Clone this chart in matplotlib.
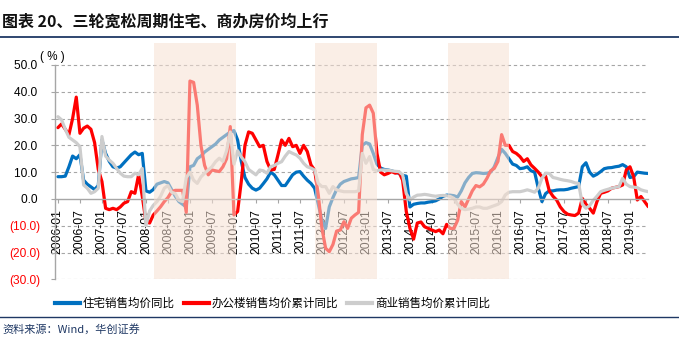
import numpy as np
import matplotlib
matplotlib.use("Agg")
import matplotlib.pyplot as plt
from matplotlib.lines import Line2D

plt.rcParams['font.family'] = ['Liberation Sans', 'Noto Sans CJK SC', 'DejaVu Sans']

# monthly, 2006-01 .. 2019-06
start_year = 2006
housing = [8.3, 8.3, 8.5, 12, 16, 15, 16.5, 7, 5.5, 4.5, 3.5, 5,
           22, 17, 14, 12, 11.5, 12, 13.5, 15, 16.5, 17.5, 16.5, 17,
           3, 2.5, 3.5, 5.5, 6, 6.5, 6, 3.5, 1, -1, -2, -3,
           12, 12.5, 15, 16, 17.5, 18.5, 19.5, 20.5, 22, 23, 24, 25,
           25.5, 22, 14, 8, 5.5, 4, 3.3, 4, 5.7, 7.5, 10, 9,
           7, 5, 5, 7, 9, 10, 10.2, 8.5, 7, 5.8, 4, -2,
           -8, -11, -3, 0.5, 3.5, 5.5, 6.5, 7, 7.5, 7.7, 8, 20,
           21, 20.5, 17, 13, 11.5, 11, 10.8, 10.5, 10, 9.5, 8.8, 8.5,
           -3, -2, -1.7, -1.5, -1.5, -1.2, -1, -0.7, 0, 1, 1.4, 1.4,
           1.2, 0.7, 3, 6, 8, 9.5, 9.8, 9.7, 9.5, 9.6, 10, 12,
           15.5, 18.5, 17, 15, 13, 12.5, 11.3, 11.5, 12, 10.5, 10, 4,
           -1, 2, 3, 3, 3.3, 3.4, 3.4, 3.6, 4, 4.3, 4.6, 12,
           13.5, 10, 8.5, 9.2, 10.2, 11.3, 11.6, 11.7, 12, 12.2, 12.8, 12,
           8, 8.3, 10, 9.8, 9.6, 9.5]
office = [26.6, 28, 26, 24, 30, 38, 24.5, 26.4, 27.2, 26, 21, 11,
          6.5, -3.5, -4, -3.5, -4, -3, -1.6, -1, 2.7, 2.1, 9, 1,
          -8.5, -9, -6, -4.5, -2.9, -1, 0.5, 2.7, 3.2, 3.2, 3.2, -5,
          44, 43.5, 35, 20, 12.5, 9, 10.8, 10.5, 10.2, 12, 15, 27,
          -6, -4.7, 6.5, 20, 25, 24.5, 22, 19.5, 20, 14, 10.8, 11,
          16.4, 22, 20, 22.6, 19.5, 20, 17, 20, 17.7, 12.7, 10.8, 1.5,
          -11, -18.4, -19.7, -17, -12, -11.6, -8.5, -11, -7.2, -6, -5, 24,
          34, 35, 32, 17, 10, 9, 9.5, 10.2, 9.6, 10, 7, -4.7,
          -11, -15, -9, -8.6, -10.4, -11, -11.6, -12.2, -11.6, -13, -9.5, -11,
          -11, -8, -1, -3, 0, 3, 5, 4.5, 5.5, 7.7, 10.5, 11.4,
          14, 24, 20, 20, 17.7, 17, 15.8, 14, 15, 12.7, 11.4, 10,
          8.3, 8.5, 3, 1, -0.4, -3, -4.7, -5.7, -6, -6.2, -5.3, 0.2,
          -2, -3.5, -5.3, -1, 2.1, 2.5, 3, 4, 4.3, 4.6, 5.2, 10.8,
          12, 8.3, -0.4, 0.9, -1, -2.9]
commercial = [30.7, 29.5, 26, 23, 22, 21, 19.5, 5.2, 4, 2.1, 2.7, 4,
              23.3, 16, 14.5, 13.3, 11.4, 9.6, 8.5, 8.3, 8.3, 9.6, 9, 11.4,
              -10, -4.5, -2.4, -1, 1, 4, 5, 2.5, 2, -0.5, -1, 8,
              10, 7, 5.8, 8.2, 9.6, 10.8, 12, 13.9, 15.2, 14, 18, 25,
              13, 18, 15.7, 13.9, 11, 10, 9, 10.8, 10.5, 9.6, 12, 12.5,
              13.3, 13.9, 16, 17.7, 17, 16.4, 15.2, 13.3, 12, 11.5, 10.8, 5.8,
              4.6, 4.6, 2.1, 4.6, 3.4, 3, 2.7, 2.7, 2.7, 2.7, 3, 17,
              13.3, 15.8, 11, 10.5, 10.8, 10.8, 10.7, 10.5, 10.3, 10.2, 9, 2,
              -0.4, 0.7, 1.4, 1.5, 1.7, 1.5, 1.2, 1, 1.2, 1.3, 1.2, 0.9,
              0.2, -2, -3.5, -4, -3.8, -3.5, -3, -3, -3.5, -3.5, -3, -2.5,
              -2, -1, 1.5, 2.5, 2.7, 2.7, 2.7, 3, 3.4, 3, 2.5, 4,
              7.7, 9.6, 9.5, 8, 7.7, 7.3, 7, 6.8, 6.5, 6, 5.8, -2,
              -3.5, -2.5, -0.5, 1, 2.7, 3.2, 3.6, 4, 4.3, 4.6, 7.7, 5.5,
              4.6, 4.4, 4.2, 3.4, 3, 2.7]
# easing cycles, in months from 2006-01
easing = [(26.3, 48.5), (70.0, 87.0), (106.4, 123.1)]
names = ['住宅销售均价同比', '办公楼销售均价累计同比', '商业销售均价累计同比']
colors = ['#0070C0', '#FF0000', '#CDCDCD']
yticks = [-30, -20, -10, 0, 10, 20, 30, 40, 50]

m = np.arange(len(housing))
ticks_m = np.arange(0, len(housing), 6)
tick_labels = ['%d-%02d' % (start_year + t // 12, t % 12 + 1) for t in ticks_m]

fig = plt.figure(figsize=(6.79, 3.39), dpi=100)
ax = fig.add_axes([55 / 679, 1 - 279.3 / 339, 593.3 / 679, (279.3 - 43) / 339])

for s, c in zip([housing, office, commercial], colors):
    ax.plot(m, s, color=c, lw=2.3, solid_joinstyle='round', solid_capstyle='round', zorder=2)

# shading sits on top, so lines and tick labels under it look faded
for a, b in easing:
    ax.axvspan(a, b, color='#F6E0D2', alpha=0.55, lw=0, zorder=4)

ax.set_xlim(-0.8, len(housing) - 1)
ax.set_ylim(-30, 58.2)

for v in yticks:
    if v != 0:
        ax.axhline(v, color='#A6A6A6', lw=0.8, ls=(0, (3, 2.5)), zorder=1)

for sp in ['top', 'right']:
    ax.spines[sp].set_visible(False)
ax.spines['bottom'].set_position(('data', 0))
ax.spines['left'].set_bounds(-30, 50)
for sp in ['bottom', 'left']:
    ax.spines[sp].set_color('#A6A6A6')
    ax.spines[sp].set_linewidth(1.0)

ax.set_xticks(ticks_m)
ax.set_xticklabels(tick_labels, rotation=90, fontsize=8.8, va='top')
ax.tick_params(axis='x', length=3, color='#A6A6A6', pad=4.5)
ax.set_yticks(yticks)
ylabels = ['(%.1f)' % -v if v < 0 else '%.1f ' % v for v in yticks]
ax.set_yticklabels(ylabels, fontsize=8.6)
for lab, v in zip(ax.get_yticklabels(), yticks):
    lab.set_color('#FF0000' if v < 0 else 'black')
ax.tick_params(axis='y', length=3, color='#A6A6A6', pad=7.5)

fig.text(40 / 679, 1 - 57 / 339, '( % )', fontsize=8.4, va='center', ha='left')

# title and frame lines
fig.text(2 / 679, 1 - 22 / 339, '图表 20、三轮宽松周期住宅、商办房价均上行',
         family=['Noto Sans CJK SC'], fontsize=11.5, fontweight='bold',
         color='#111111', va='center', ha='left')
fig.add_artist(Line2D([0, 1], [1 - 37 / 339] * 2, color='#1F3864', lw=1.3))
fig.add_artist(Line2D([0, 1], [1 - 317 / 339] * 2, color='#1F3864', lw=1.0))
fig.text(2 / 679, 1 - 329 / 339, '资料来源：Wind，华创证券',
         family=['Noto Sans CJK SC'], fontsize=8, color='#1F3864',
         va='center', ha='left', style='italic')

# legend
leg_x = [55, 184, 347]
for x0, c, n in zip(leg_x, colors, names):
    fig.add_artist(Line2D([x0 / 679, (x0 + 25) / 679], [1 - 303 / 339] * 2,
                          color=c, lw=3))
    fig.text((x0 + 28) / 679, 1 - 303 / 339, n, family=['Noto Sans CJK SC'],
             fontsize=8.3, va='center', ha='left')

fig.savefig('out.png', dpi=100)
